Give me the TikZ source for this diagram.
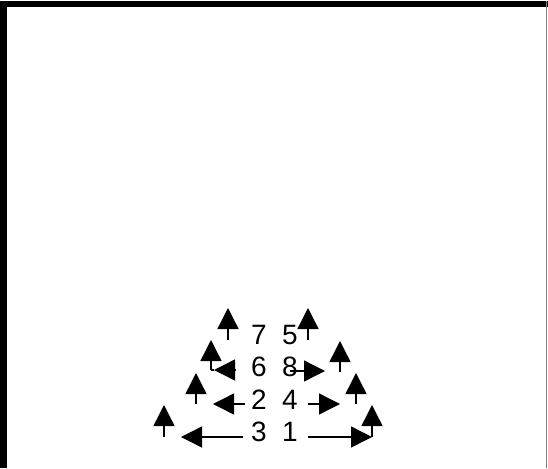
\documentclass[tikz,border=0pt]{standalone}
\usepackage{fontspec}
\setmainfont{Liberation Sans}
\usetikzlibrary{arrows.meta}
\tikzset{
  num/.style={inner sep=0pt, font=\fontsize{28}{28}\selectfont},
  arr/.style={line width=1.4pt, -{Triangle[length=21pt,width=21pt]}},
  seg/.style={line width=1.4pt}
}
\begin{document}
\begin{tikzpicture}[x=1pt,y=-1pt]
\useasboundingbox (0,0) rectangle (548,468);
% frame
\fill[black] (0,1) rectangle (548,7);
\fill[black] (0,1) rectangle (7,468);
\draw[gray, line width=1pt] (546.5,1) -- (546.5,468);
% numbers
\node[num] (n7) at (259,335) {7};
\node[num] (n5) at (290,335) {5};
\node[num] (n6) at (259,367) {6};
\node[num] (n8) at (290,367) {8};
\node[num] (n2) at (259,400) {2};
\node[num] (n4) at (290,400) {4};
\node[num] (n3) at (259,432) {3};
\node[num] (n1) at (290,432) {1};
% coordinates
\coordinate (a1s) at (243,437); \coordinate (a1e) at (181,437);
\coordinate (a2s) at (164,437); \coordinate (a2e) at (164,405);
\coordinate (a3s) at (308,437); \coordinate (a3e) at (372,437);
\coordinate (a4e) at (372,405);
\coordinate (a5s) at (245,404); \coordinate (a5e) at (213,404);
\coordinate (a6s) at (196,404); \coordinate (a6e) at (196,373);
\coordinate (a7s) at (308,404); \coordinate (a7e) at (340,404);
\coordinate (a8s) at (356,404); \coordinate (a8e) at (356,373);
\coordinate (a9s) at (236,370); \coordinate (a9e) at (214,370);
\coordinate (a10c) at (211,370); \coordinate (a10e) at (211,340);
\coordinate (a11s) at (290,371); \coordinate (a11e) at (325,371);
\coordinate (a12s) at (340,372); \coordinate (a12e) at (340,341);
\coordinate (a13s) at (228,340); \coordinate (a13e) at (228,308);
\coordinate (a14s) at (308,340); \coordinate (a14e) at (308,308);
% arrows
\draw[arr] (a1s) -- (a1e);
\draw[arr] (a2s) -- (a2e);
\draw[arr] (a3s) -- (a3e);
\draw[arr] (a3e) -- (a4e);
\draw[arr] (a5s) -- (a5e);
\draw[arr] (a6s) -- (a6e);
\draw[arr] (a7s) -- (a7e);
\draw[arr] (a8s) -- (a8e);
\draw[arr] (a9s) -- (a9e);
\draw[seg] (a9e) -- (a10c);
\draw[arr] (a10c) -- (a10e);
\draw[arr] (a11s) -- (a11e);
\draw[arr] (a12s) -- (a12e);
\draw[arr] (a13s) -- (a13e);
\draw[arr] (a14s) -- (a14e);
\end{tikzpicture}
\end{document}
